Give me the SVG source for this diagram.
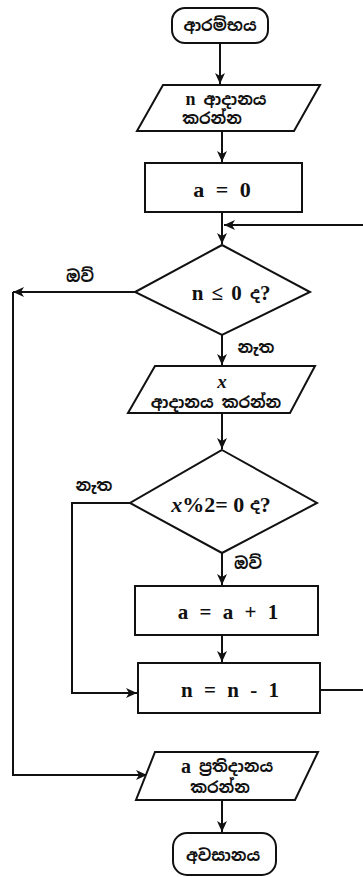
<svg xmlns="http://www.w3.org/2000/svg" width="363" height="877" viewBox="0 0 363 877">
<style>
  .shape { fill: #ffffff; stroke: #111111; stroke-width: 2; }
  .conn { fill: none; stroke: #111111; stroke-width: 2; }
  .math { font-family: "Liberation Serif", "Times New Roman", serif; font-weight: bold; fill: #111111; text-anchor: middle; dominant-baseline: central; }
  .si { font-family: "Noto Sans Sinhala", "Noto Serif Sinhala", "Iskoola Pota", "Lohit Sinhala", "Noto Sans", sans-serif; font-weight: bold; fill: #111111; text-anchor: middle; dominant-baseline: central; font-size: 16px; }
</style>
<defs>
  <marker id="arr" markerWidth="12" markerHeight="12" refX="11" refY="6" orient="auto" markerUnits="userSpaceOnUse">
    <path d="M0,1 L11,6 L0,11 L3,6 Z" fill="#111111"/>
  </marker>
</defs>
<rect width="363" height="877" fill="#ffffff"/>

<g id="connectors">
  <line class="conn" x1="220" y1="43" x2="220" y2="84" marker-end="url(#arr)"/>
  <line class="conn" x1="222" y1="131" x2="222" y2="162" marker-end="url(#arr)"/>
  <line class="conn" x1="222" y1="212" x2="222" y2="244" marker-end="url(#arr)"/>
  <line class="conn" x1="363" y1="225" x2="224" y2="225" marker-end="url(#arr)"/>
  <polyline class="conn" points="135,292 13,292" marker-end="url(#arr)"/>
  <polyline class="conn" points="13,292 13,775 147,775" marker-end="url(#arr)"/>
  <line class="conn" x1="222" y1="335" x2="222" y2="365" marker-end="url(#arr)"/>
  <line class="conn" x1="222" y1="413" x2="222" y2="449" marker-end="url(#arr)"/>
  <polyline class="conn" points="130,503 72,503 72,693 137,693" marker-end="url(#arr)"/>
  <line class="conn" x1="222" y1="553" x2="222" y2="585" marker-end="url(#arr)"/>
  <line class="conn" x1="222" y1="635" x2="222" y2="662" marker-end="url(#arr)"/>
  <line class="conn" x1="320" y1="690" x2="363" y2="690"/>
  <line class="conn" x1="222" y1="800" x2="222" y2="832" marker-end="url(#arr)"/>
  <text class="si" x="80" y="276" font-size="18">ඔව්</text>
  <text class="si" x="256" y="347" font-size="18">නැත</text>
  <text class="si" x="94" y="485" font-size="18">නැත</text>
  <text class="si" x="248" y="563" font-size="18">ඔව්</text>
</g>

<g id="start">
  <rect class="shape" x="172" y="8" width="96" height="35" rx="13"/>
  <text class="si" x="220" y="25" font-size="18">ආරම්භය</text>
</g>

<g id="input-n">
  <polygon class="shape" points="163,85 320,85 294,131 137,131"/>
  <text class="si" x="226" y="99" font-size="16"><tspan class="math" font-size="18">n</tspan>  ආදානය</text>
  <text class="si" x="212" y="118" font-size="16">කරන්න</text>
</g>

<g id="init-a">
  <rect class="shape" x="145" y="163" width="157" height="49"/>
  <text class="math" x="222" y="189" font-size="22" word-spacing="6">a = 0</text>
</g>

<g id="decision-n">
  <polygon class="shape" points="222,245 310,292 222,335 135,292"/>
  <text class="math" x="231" y="293" font-size="21" word-spacing="3">n ≤ 0 <tspan class="si" font-size="19">ද</tspan>?</text>
</g>

<g id="input-x">
  <polygon class="shape" points="155,366 315,366 290,413 128,413"/>
  <text class="math" x="222" y="381" font-size="19" font-style="italic">x</text>
  <text class="si" x="216" y="402" font-size="19">ආදානය කරන්න</text>
</g>

<g id="decision-x">
  <polygon class="shape" points="222,450 317,503 222,553 130,503"/>
  <text class="math" x="221" y="504" font-size="22"><tspan font-style="italic">x</tspan>%2= 0 <tspan class="si" font-size="19">ද</tspan>?</text>
</g>

<g id="inc-a">
  <rect class="shape" x="135" y="586" width="183" height="49"/>
  <text class="math" x="228" y="612" font-size="21" word-spacing="6">a = a + 1</text>
</g>

<g id="dec-n">
  <rect class="shape" x="138" y="663" width="182" height="50"/>
  <text class="math" x="230" y="690" font-size="21" word-spacing="6">n = n - 1</text>
</g>

<g id="output-a">
  <polygon class="shape" points="155,752 318,752 295,800 136,800"/>
  <text class="si" x="227" y="766" font-size="18"><tspan class="math" font-size="20">a</tspan> ප්‍රතිදානය</text>
  <text class="si" x="220" y="787" font-size="18">කරන්න</text>
</g>

<g id="end">
  <rect class="shape" x="173" y="833" width="103" height="42" rx="14"/>
  <text class="si" x="223" y="855" font-size="19">අවසානය</text>
</g>
</svg>
